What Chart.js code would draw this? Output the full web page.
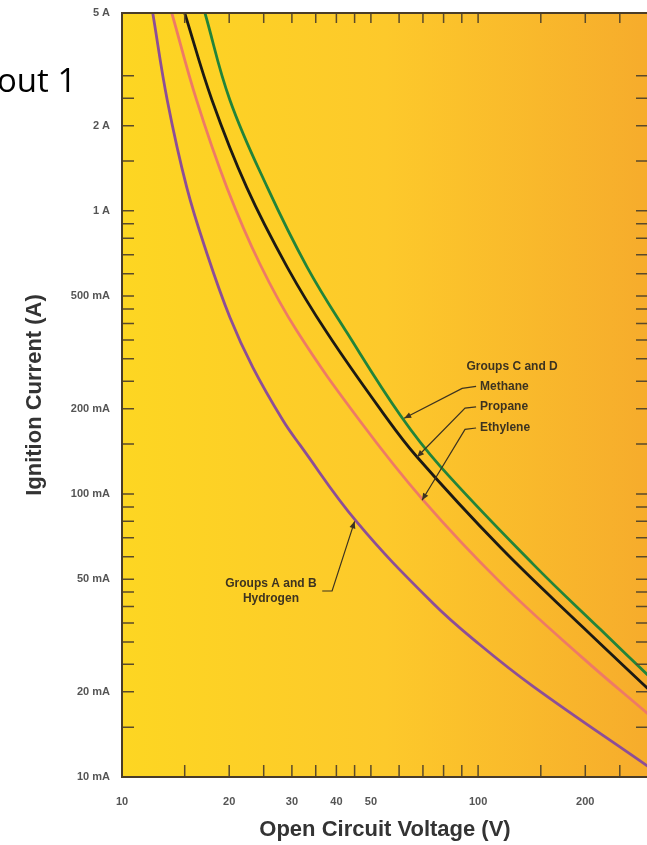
<!DOCTYPE html>
<html>
<head>
<meta charset="utf-8">
<title>Ignition Current vs Open Circuit Voltage</title>
<script src="https://cdn.jsdelivr.net/npm/chart.js@4.4.1/dist/chart.umd.min.js"></script>
<style>
    html, body { margin:0; padding:0; background:#fff; overflow:hidden; }
    #wrap { position:relative; width:647px; height:845px; overflow:hidden; }
    #myChart { position:absolute; left:0; top:0; }
    .slidetxt { position:absolute; left:-3px; top:63px; font-family:'Open Sans', sans-serif; font-size:33px; line-height:33px; color:#000; white-space:nowrap; }
</style>
</head>
<body>
<div id="wrap">
    <canvas id="myChart" width="660" height="845" style="width:660px;height:845px"></canvas>
    <div class="slidetxt">out 1</div>
</div>
<script>
// curves: volts / amps
const hydrogenV = [12.2, 13.4, 15.2, 17.3, 20.1, 23.3, 28.3, 31.6, 45.7, 74.7, 100.6, 142.7, 300]
const hydrogenA = [5, 2.46, 1.21, 0.71, 0.42, 0.28, 0.182, 0.149, 0.0795, 0.0411, 0.0295, 0.0209, 0.0109]

const ethyleneV = [13.8, 16.2, 19.7, 24.4, 31.0, 46.6, 70.1, 115.3, 197, 300]
const ethyleneA = [5, 2.46, 1.21, 0.649, 0.376, 0.181, 0.0951, 0.0488, 0.0263, 0.0167]

const propaneV = [15.0, 17.9, 22.4, 29.1, 37.7, 54.1, 67.4, 115.3, 197, 300]
const propaneA = [5, 2.46, 1.21, 0.633, 0.370, 0.193, 0.135, 0.0649, 0.0338, 0.0205]

const methaneV = [17.1, 20.1, 25.6, 33.1, 42.9, 60.4, 78.2, 142.7, 220, 300]
const methaneA = [5, 2.46, 1.21, 0.633, 0.370, 0.190, 0.1254, 0.0565, 0.0333, 0.0229]

// axis ticks
const xTickValues = [10, 20, 30, 40, 50, 100, 200]
const xTickLabels = ['10', '20', '30', '40', '50', '100', '200']
const xMarks = [15, 20, 25, 30, 35, 40, 45, 50, 60, 70, 80, 90, 100, 150, 200, 250]

const yTickValues = [0.01, 0.02, 0.05, 0.1, 0.2, 0.5, 1, 2, 5]
const yTickLabels = ['10 mA', '20 mA', '50 mA', '100 mA', '200 mA', '500 mA', '1 A', '2 A', '5 A']
const yMarks = [0.015, 0.02, 0.025, 0.03, 0.035, 0.04, 0.045, 0.05, 0.06, 0.07, 0.08, 0.09, 0.1,
    0.15, 0.2, 0.25, 0.3, 0.35, 0.4, 0.45, 0.5, 0.6, 0.7, 0.8, 0.9, 1, 1.5, 2, 2.5, 3]

// callouts (placed in volts / amps)
const noteText = ['Groups C and D', 'Methane', 'Propane', 'Ethylene', 'Groups A and B', 'Hydrogen']
const noteV = [124.6, 101.3, 101.3, 101.3, 26.2, 26.2]
const noteA = [0.281, 0.240, 0.203, 0.171, 0.048, 0.0425]
const noteAlign = ['center', 'left', 'left', 'left', 'center', 'center']

const leaderV = [[98.7, 90.2, 62.0], [98.7, 91.9, 67.4], [98.7, 91.9, 69.6], [36.5, 38.9, 45.0]]
const leaderA = [[0.240, 0.236, 0.185], [0.203, 0.201, 0.135], [0.171, 0.169, 0.095], [0.0454, 0.0454, 0.080]]


Chart.defaults.font.family = "'Liberation Sans', Arial, sans-serif"

function makepoints(xs, ys){
    var pts = []
    for (let i = 0; i < xs.length; i++) {
        pts.push({x: xs[i], y: ys[i]})
    }
    return pts
}

function makeset(label, xs, ys, color){
    return {
        label: label,
        data: makepoints(xs, ys),
        borderColor: color,
        backgroundColor: color,
        borderWidth: 2.8,
        pointRadius: 0,
        showLine: true,
        fill: false,
        tension: 0.4
    }
}

function arrowhead(ctx, x0, y0, x1, y1){
    var ang = Math.atan2(y1 - y0, x1 - x0)
    var len = 7, wid = 3
    ctx.beginPath()
    ctx.moveTo(x1, y1)
    ctx.lineTo(x1 - len * Math.cos(ang) + wid * Math.sin(ang), y1 - len * Math.sin(ang) - wid * Math.cos(ang))
    ctx.lineTo(x1 - len * Math.cos(ang) - wid * Math.sin(ang), y1 - len * Math.sin(ang) + wid * Math.cos(ang))
    ctx.closePath()
    ctx.fill()
}

const paper = {
    id: 'paper',
    beforeDraw(chart){
        const ctx = chart.ctx
        const a = chart.chartArea
        const g = ctx.createLinearGradient(a.left, 0, a.right, 0)
        g.addColorStop(0, '#FDD622')
        g.addColorStop(0.5, '#FDC92B')
        g.addColorStop(1, '#F6AC2C')
        ctx.save()
        ctx.fillStyle = g
        ctx.fillRect(a.left, a.top, a.right - a.left, a.bottom - a.top)
        ctx.restore()
    },
    afterDatasetsDraw(chart){
        const ctx = chart.ctx
        const a = chart.chartArea
        const sx = chart.scales.x
        const sy = chart.scales.y
        ctx.save()

        // inward tick marks on all four sides
        ctx.strokeStyle = '#5b4a2a'
        ctx.lineWidth = 1.5
        ctx.beginPath()
        for (let i = 0; i < xMarks.length; i++) {
            var px = sx.getPixelForValue(xMarks[i])
            ctx.moveTo(px, a.bottom); ctx.lineTo(px, a.bottom - 12)
            ctx.moveTo(px, a.top); ctx.lineTo(px, a.top + 10)
        }
        for (let i = 0; i < yMarks.length; i++) {
            var py = sy.getPixelForValue(yMarks[i])
            ctx.moveTo(a.left, py); ctx.lineTo(a.left + 12, py)
            ctx.moveTo(a.right, py); ctx.lineTo(a.right - 12, py)
        }
        ctx.stroke()

        // frame
        ctx.strokeStyle = '#4a3c28'
        ctx.lineWidth = 2
        ctx.strokeRect(a.left, a.top, a.right - a.left, a.bottom - a.top)

        // callout text
        ctx.fillStyle = '#3d3320'
        ctx.font = "bold 12px 'Liberation Sans', Arial, sans-serif"
        ctx.textBaseline = 'middle'
        for (let i = 0; i < noteText.length; i++) {
            ctx.textAlign = noteAlign[i]
            ctx.fillText(noteText[i], sx.getPixelForValue(noteV[i]), sy.getPixelForValue(noteA[i]))
        }

        // leader lines with arrows
        ctx.strokeStyle = '#3d3320'
        ctx.lineWidth = 1.2
        for (let i = 0; i < leaderV.length; i++) {
            var xs = leaderV[i].map(v => sx.getPixelForValue(v))
            var ys = leaderA[i].map(v => sy.getPixelForValue(v))
            ctx.beginPath()
            ctx.moveTo(xs[0], ys[0])
            for (let j = 1; j < xs.length; j++) ctx.lineTo(xs[j], ys[j])
            ctx.stroke()
            var n = xs.length - 1
            arrowhead(ctx, xs[n - 1], ys[n - 1], xs[n], ys[n])
        }
        ctx.restore()
    }
}

function makechart(docID){
    const ctx = document.getElementById(docID)

    const myChart = new Chart(ctx, {
        type: 'scatter',
        data: {
            datasets: [
                makeset('Groups A and B - Hydrogen', hydrogenV, hydrogenA, '#8D4E97'),
                makeset('Ethylene', ethyleneV, ethyleneA, '#EE7A66'),
                makeset('Propane', propaneV, propaneA, '#1C1A14'),
                makeset('Groups C and D - Methane', methaneV, methaneA, '#22843A')
            ]
        },
        options: {
            responsive: false,
            animation: false,
            layout: { padding: { top: 13, right: 12, left: 0, bottom: 0 } },
            plugins: {
                legend: { display: false },
                tooltip: { enabled: false }
            },
            scales: {
                x: {
                    type: 'logarithmic',
                    min: 10,
                    max: 300,
                    grid: { display: false },
                    border: { display: false },
                    afterBuildTicks: (scale) => { scale.ticks = xTickValues.map(v => ({value: v})) },
                    afterFit: (scale) => { scale.height = 68 },
                    ticks: {
                        autoSkip: false,
                        maxRotation: 0,
                        padding: 10,
                        color: '#555',
                        font: { size: 11, weight: 'bold' },
                        callback: (value) => xTickLabels[xTickValues.indexOf(value)]
                    },
                    title: {
                        display: true,
                        text: 'Open Circuit Voltage (V)',
                        color: '#333',
                        font: { size: 22, weight: 'bold' },
                        padding: { top: 0, bottom: 2 }
                    }
                },
                y: {
                    type: 'logarithmic',
                    min: 0.01,
                    max: 5,
                    grid: { display: false },
                    border: { display: false },
                    afterBuildTicks: (scale) => { scale.ticks = yTickValues.map(v => ({value: v})) },
                    afterFit: (scale) => { scale.width = 122 },
                    ticks: {
                        autoSkip: false,
                        padding: 4,
                        color: '#555',
                        font: { size: 11, weight: 'bold' },
                        callback: (value) => yTickLabels[yTickValues.indexOf(value)]
                    },
                    title: {
                        display: true,
                        text: 'Ignition Current (A)',
                        color: '#333',
                        font: { size: 22, weight: 'bold' },
                        padding: { top: 22, bottom: 0 }
                    }
                }
            }
        },
        plugins: [paper]
    })
}

makechart('myChart')
</script>
</body>
</html>
